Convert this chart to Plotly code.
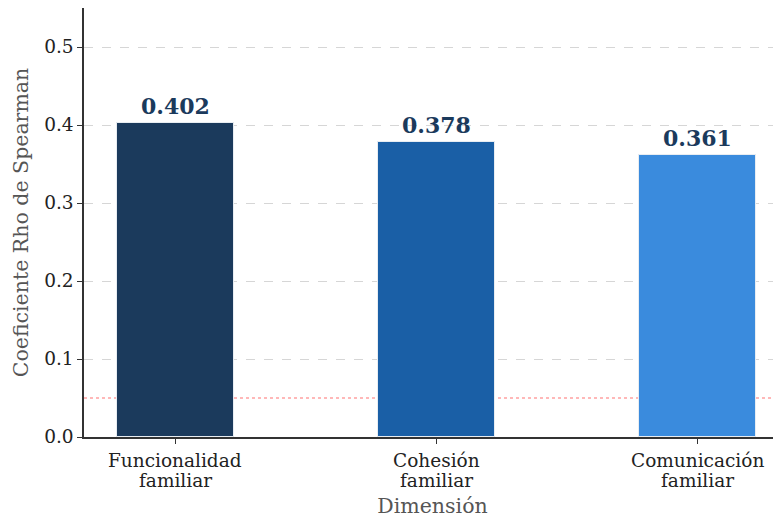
import plotly.graph_objects as go

categories = ["Funcionalidad<br>familiar", "Cohesión<br>familiar", "Comunicación<br>familiar"]
rho_values = [0.402, 0.378, 0.361]
value_labels = ["0.402", "0.378", "0.361"]
bar_colors = ["#1b3a5c", "#1a5fa6", "#3a8bdd"]
reference_value = 0.05
y_ticks = [0.0, 0.1, 0.2, 0.3, 0.4, 0.5]

x_pos = list(range(len(categories)))

fig = go.Figure()
fig.add_trace(go.Bar(
    x=x_pos, y=rho_values, width=0.45,
    marker=dict(color=bar_colors, line=dict(color="#e8edf2", width=1)),
    hoverinfo="skip", showlegend=False,
))

fig.add_shape(type="line", xref="paper", yref="y", x0=0, x1=1,
              y0=reference_value, y1=reference_value,
              line=dict(color="rgba(255,110,110,0.65)", width=1.3, dash="dot"),
              layer="below")

for xp, v, lab in zip(x_pos, rho_values, value_labels):
    fig.add_annotation(x=xp, y=v, text="<b>" + lab + "</b>", showarrow=False,
                       yanchor="bottom", yshift=2,
                       font=dict(family="DejaVu Serif", size=22, color="#1b3a5c"))

# category tick labels, one line each, with matplotlib-like line spacing
for xp, cat in zip(x_pos, categories):
    for i, line in enumerate(cat.split("<br>")):
        fig.add_annotation(x=xp, xref="x", y=0, yref="paper", text=line,
                           showarrow=False, yanchor="middle", yshift=-23 - 20 * i,
                           font=dict(family="DejaVu Serif", size=18.5, color="#222222"))

fig.update_layout(
    width=773, height=511,
    margin=dict(l=76, r=0, t=0, b=82),
    plot_bgcolor="white", paper_bgcolor="white",
    font=dict(family="DejaVu Serif", size=18.5, color="#222222"),
    bargap=0,
)
fig.update_xaxes(
    range=[-0.35, 2.32], tickmode="array", tickvals=x_pos, ticktext=["" for _ in x_pos],
    showline=True, linecolor="#333333", linewidth=1.5,
    ticks="outside", ticklen=5, tickcolor="#333333",
    showgrid=False, zeroline=False, automargin=False,
    title=dict(text="Dimensión", font=dict(size=20.5, color="#555555"), standoff=52),
    tickfont=dict(size=18.5, color="#222222"),
)
fig.update_yaxes(
    range=[0, 0.55], tickmode="array", tickvals=y_ticks,
    ticktext=["%.1f" % t for t in y_ticks],
    showline=True, linecolor="#333333", linewidth=1.5,
    ticks="outside", ticklen=5, tickcolor="#333333",
    showgrid=True, gridcolor="rgba(180,180,180,0.55)", griddash="dash", gridwidth=1,
    zeroline=False, automargin=False,
    title=dict(text="Coeficiente Rho de Spearman", font=dict(size=20.5, color="#555555"), standoff=10),
    tickfont=dict(size=18.5, color="#222222"),
)

fig.write_html("out.html")
